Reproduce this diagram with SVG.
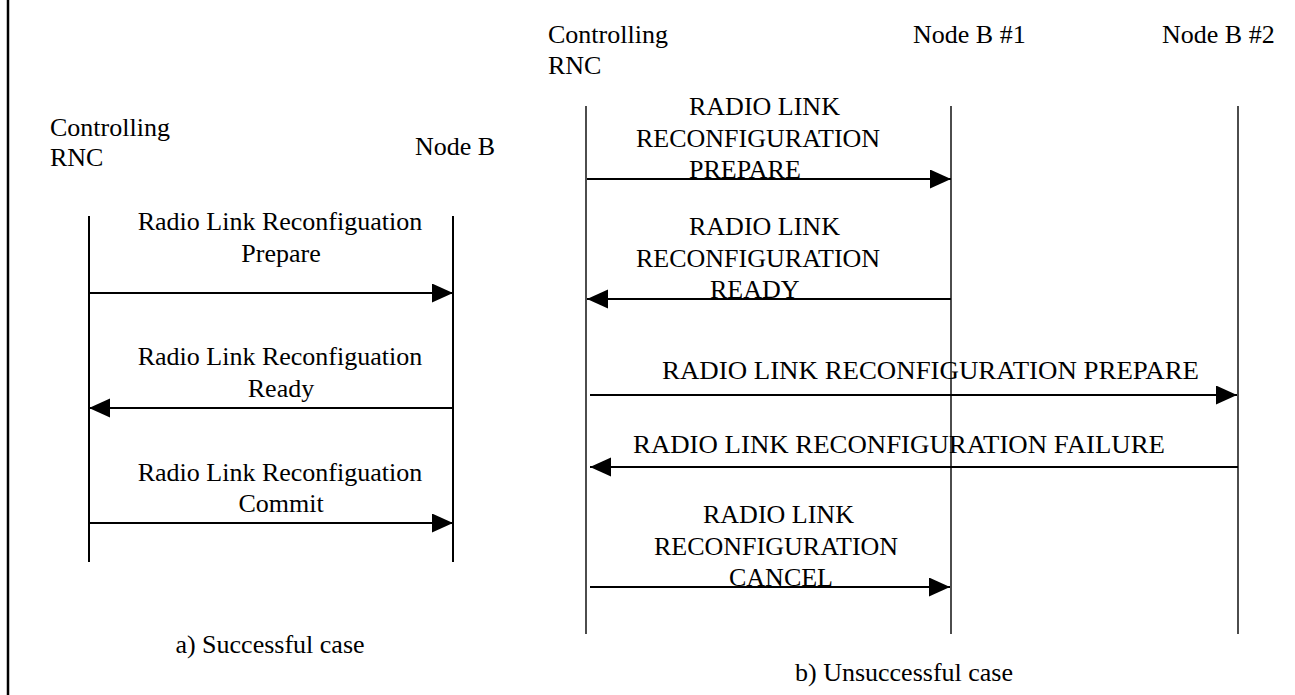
<svg xmlns="http://www.w3.org/2000/svg" width="1295" height="695" viewBox="0 0 1295 695" font-family="'Liberation Serif', serif">
<style>
text{font-family:'Liberation Serif',serif;font-size:26px;fill:#000}
.m{text-anchor:middle}
.ll{stroke:#000;stroke-width:1.4;fill:none}
.llL{stroke:#000;stroke-width:2;fill:none}
.msg{stroke:#000;stroke-width:2;fill:none;marker-end:url(#ah)}
</style>
<defs>
<marker id="ah" markerUnits="userSpaceOnUse" markerWidth="22" markerHeight="20" refX="21" refY="9.5" orient="auto">
<path d="M0,0 L21,9.5 L0,19 Z" fill="#000"/>
</marker>
</defs>
<rect width="1295" height="695" fill="#fff"/>
<line x1="8" y1="0" x2="8" y2="695" stroke="#000" stroke-width="2.5"/>

<g id="a-rnc">
<text x="50" y="136">Controlling</text>
<text x="50" y="166">RNC</text>
<line class="llL" x1="89" y1="216" x2="89" y2="562"/>
</g>
<g id="a-nodeb">
<text x="415" y="155">Node B</text>
<line class="llL" x1="453" y1="216" x2="453" y2="562"/>
</g>

<g id="b-rnc">
<text x="548" y="43">Controlling</text>
<text x="548" y="74">RNC</text>
<line class="ll" x1="586" y1="106" x2="586" y2="634"/>
</g>
<g id="b-nodeb1">
<text x="913" y="43">Node B #1</text>
<line class="ll" x1="951" y1="106" x2="951" y2="634"/>
</g>
<g id="b-nodeb2">
<text x="1162" y="43">Node B #2</text>
<line class="ll" x1="1238" y1="106" x2="1238" y2="634"/>
</g>

<g id="connectors">
<line class="msg" x1="89" y1="293" x2="453" y2="293"/>
<line class="msg" x1="453" y1="408" x2="89" y2="408"/>
<line class="msg" x1="89" y1="523" x2="453" y2="523"/>
<line class="msg" x1="587" y1="179" x2="951" y2="179"/>
<line class="msg" x1="951" y1="299" x2="587" y2="299"/>
<line class="msg" x1="590" y1="395" x2="1237" y2="395"/>
<line class="msg" x1="1238" y1="467" x2="590" y2="467"/>
<line class="msg" x1="590" y1="587" x2="950" y2="587"/>
</g>

<g id="labels">
<text class="m" x="280" y="230">Radio Link Reconfiguation</text>
<text class="m" x="281" y="262">Prepare</text>
<text class="m" x="280" y="365">Radio Link Reconfiguation</text>
<text class="m" x="281" y="397">Ready</text>
<text class="m" x="280" y="481">Radio Link Reconfiguation</text>
<text class="m" x="281" y="512">Commit</text>

<text x="689" y="115">RADIO LINK</text>
<text x="636" y="147">RECONFIGURATION</text>
<text x="689" y="178">PREPARE</text>

<text x="689" y="235">RADIO LINK</text>
<text x="636" y="267">RECONFIGURATION</text>
<text x="710" y="298">READY</text>

<text x="662" y="379" textLength="537" lengthAdjust="spacingAndGlyphs">RADIO LINK RECONFIGURATION PREPARE</text>
<text x="633" y="453" textLength="532" lengthAdjust="spacingAndGlyphs">RADIO LINK RECONFIGURATION FAILURE</text>

<text x="703" y="523">RADIO LINK</text>
<text x="654" y="555">RECONFIGURATION</text>
<text x="729" y="586">CANCEL</text>

<text class="m" x="270" y="653">a) Successful case</text>
<text class="m" x="904" y="681">b) Unsuccessful case</text>
</g>
</svg>
